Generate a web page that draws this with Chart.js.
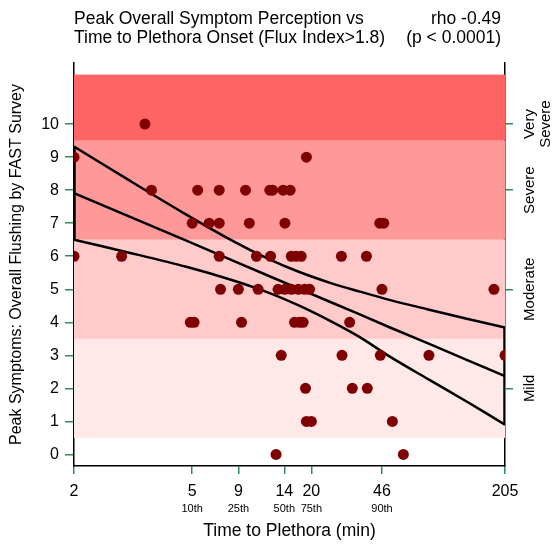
<!DOCTYPE html>
<html>
<head>
<meta charset="utf-8">
<script src="https://cdn.jsdelivr.net/npm/chart.js@4.4.0/dist/chart.umd.min.js"></script>
<style>
  html, body { margin: 0; padding: 0; background: #fff; }
  #wrap { width: 559px; height: 544px; }
</style>
</head>
<body>
<div id="wrap"><canvas id="flushVsPlethora"></canvas></div>
<script>
// time to plethora onset (min) and peak FAST flushing score, one pair per subject
const plethoraMin = [
  3.4,
  2, 18.6,
  3.6, 5.6, 7.0, 9.3, 12.2, 12.6, 14.2, 15.4,
  5.3, 6.3, 7.0, 9.7, 14.5, 44.5, 46.7,
  2, 2.8, 7.0, 10.5, 12.3, 15.6, 16.5, 17.5, 28.1, 37.9,
  7.1, 8.6, 10.7, 13.4, 14.5, 15.6, 16.9, 18.2, 19.3, 45.7, 179,
  5.2, 5.4, 8.9, 16.2, 17.2, 17.9, 31.0,
  13.9, 28.3, 44.8, 80.8, 205,
  18.4, 32.0, 38.3,
  18.6, 19.7, 51.8,
  13.1, 59.2
];
const flushScore = [
  10,
  9, 9,
  8, 8, 8, 8, 8, 8, 8, 8,
  7, 7, 7, 7, 7, 7, 7,
  6, 6, 6, 6, 6, 6, 6, 6, 6, 6,
  5, 5, 5, 5, 5, 5, 5, 5, 5, 5, 5,
  4, 4, 4, 4, 4, 4, 4,
  3, 3, 3, 3, 3,
  2, 2, 2,
  1, 1, 1,
  0, 0
];

// regression line and its confidence band
const fitMin    = [2, 3, 5, 8, 12, 17, 25, 35, 50, 80, 130, 205];
const fitScore  = [7.91, 7.19, 6.47, 5.88, 5.41, 5.02, 4.60, 4.24, 3.85, 3.36, 2.85, 2.37];
const bandUpper = [9.32, 8.28, 7.26, 6.48, 5.92, 5.53, 5.18, 4.93, 4.68, 4.39, 4.10, 3.84];
const bandLower = [6.50, 6.10, 5.68, 5.28, 4.90, 4.51, 4.02, 3.55, 2.97, 2.28, 1.58, 0.90];

// x ticks sit at the percentiles of onset time
const xTickMin = [2, 5.3, 8.6, 14.4, 19.7, 45.7, 205];
const xTickLabels = ['2', '5', '9', '14', '20', '46', '205'];
const xPctLabels = ['', '10th', '25th', '50th', '75th', '90th', ''];
const yTicks = [0, 1, 2, 3, 4, 5, 6, 7, 8, 9, 10];

const severityNames = [['Mild'], ['Moderate'], ['Severe'], ['Very', 'Severe']];
const severityAt = [2, 5, 8, 10];
const severityEdges = [0.5, 3.5, 6.5, 9.5, 11.5];
const severityColors = ['#ffe8e8', '#ffcaca', '#ff9999', '#ff6464'];

const FONT = '"Liberation Sans", Arial, sans-serif';
const TICK_GREEN = '#2e8b57';

// x axis is log of (minutes - 1), so 2 min lands on the origin
const shift = t => t - 1;

const points = plethoraMin.map((t, i) => ({ x: shift(t), y: flushScore[i] }));
const curve = ys => fitMin.map((t, i) => ({ x: shift(t), y: ys[i] }));
const last = fitMin.length - 1;

const lineStyle = {
  showLine: true, borderColor: '#000', borderWidth: 2.5, pointRadius: 0,
  fill: false, tension: 0.3, order: 2
};

const decorations = {
  id: 'decorations',
  beforeDatasetsDraw(chart) {
    const { ctx, chartArea: a, scales: { y } } = chart;
    ctx.save();
    severityColors.forEach((c, i) => {
      const top = y.getPixelForValue(severityEdges[i + 1]);
      const bot = y.getPixelForValue(severityEdges[i]);
      ctx.fillStyle = c;
      ctx.fillRect(a.left, top, a.right - a.left, bot - top);
    });
    ctx.restore();
  },
  afterDraw(chart) {
    const { ctx, chartArea: a, scales: { x, y } } = chart;
    ctx.save();
    ctx.fillStyle = '#000';

    // heading
    ctx.font = '17.5px ' + FONT;
    ctx.textBaseline = 'alphabetic';
    ctx.textAlign = 'left';
    ctx.fillText('Peak Overall Symptom Perception vs', 74, 24);
    ctx.fillText('Time to Plethora Onset (Flux Index>1.8)', 74, 43);
    ctx.textAlign = 'right';
    ctx.fillText('rho -0.49', 501, 24);
    ctx.fillText('(p < 0.0001)', 501, 43);

    // percentile labels under the x ticks
    ctx.font = '11px ' + FONT;
    ctx.textAlign = 'center';
    ctx.textBaseline = 'middle';
    xTickMin.forEach((t, i) => {
      if (xPctLabels[i]) ctx.fillText(xPctLabels[i], x.getPixelForValue(shift(t)), 509);
    });

    // axis titles
    ctx.font = '17.5px ' + FONT;
    ctx.fillText('Time to Plethora (min)', (a.left + a.right) / 2, 531);
    ctx.font = '16px ' + FONT;
    ctx.save();
    ctx.translate(17, (a.top + a.bottom) / 2);
    ctx.rotate(-Math.PI / 2);
    ctx.fillText('Peak Symptoms: Overall Flushing by FAST Survey', 0, 0);
    ctx.restore();

    // severity names on the right axis
    ctx.font = '15px ' + FONT;
    severityNames.forEach((lines, i) => {
      const py = y.getPixelForValue(severityAt[i]);
      lines.forEach((s, j) => {
        ctx.save();
        ctx.translate(530 + j * 16, py);
        ctx.rotate(-Math.PI / 2);
        ctx.fillText(s, 0, 0);
        ctx.restore();
      });
    });
    ctx.restore();
  }
};

new Chart(document.getElementById('flushVsPlethora'), {
  type: 'scatter',
  data: {
    datasets: [
      {
        data: points, backgroundColor: '#7f0000', borderWidth: 0,
        pointRadius: 5.5, pointHoverRadius: 5.5, order: 0
      },
      { ...lineStyle, data: curve(fitScore), tension: 0 },
      { ...lineStyle, data: curve(bandUpper) },
      { ...lineStyle, data: curve(bandLower) },
      { ...lineStyle, borderWidth: 3.5, tension: 0,
        data: [{ x: shift(fitMin[0]), y: bandLower[0] }, { x: shift(fitMin[0]), y: bandUpper[0] }] },
      { ...lineStyle, borderWidth: 3.5, tension: 0,
        data: [{ x: shift(fitMin[last]), y: bandLower[last] }, { x: shift(fitMin[last]), y: bandUpper[last] }] }
    ]
  },
  options: {
    responsive: true,
    maintainAspectRatio: false,
    animation: false,
    layout: { padding: { top: 63, left: 0, right: 0, bottom: 0 } },
    plugins: { legend: { display: false }, tooltip: { enabled: false } },
    scales: {
      x: {
        type: 'logarithmic',
        min: shift(2),
        max: shift(205),
        afterBuildTicks: s => { s.ticks = xTickMin.map(t => ({ value: shift(t) })); },
        afterFit: s => { s.height = 78; },
        ticks: {
          autoSkip: false, maxRotation: 0, padding: 8, color: '#000',
          font: { family: FONT, size: 16 },
          callback: (v, i) => xTickLabels[i]
        },
        grid: { drawOnChartArea: false, tickLength: 8, color: TICK_GREEN, lineWidth: 1.5 },
        border: { color: '#000', width: 1.5 }
      },
      y: {
        min: -0.35,
        max: 11.85,
        afterBuildTicks: s => { s.ticks = yTicks.map(v => ({ value: v })); },
        afterFit: s => { s.width = 74; },
        ticks: { padding: 6, color: '#000', font: { family: FONT, size: 16 } },
        grid: { drawOnChartArea: false, tickLength: 9, color: TICK_GREEN, lineWidth: 1.5 },
        border: { color: '#000', width: 1.5 }
      },
      y2: {
        position: 'right',
        min: -0.35,
        max: 11.85,
        afterBuildTicks: s => { s.ticks = severityAt.map(v => ({ value: v })); },
        afterFit: s => { s.width = 54; },
        ticks: { display: false },
        grid: { drawOnChartArea: false, tickLength: 8, color: TICK_GREEN, lineWidth: 1.5 },
        border: { color: '#000', width: 1.5 }
      }
    }
  },
  plugins: [decorations]
});
</script>
</body>
</html>
